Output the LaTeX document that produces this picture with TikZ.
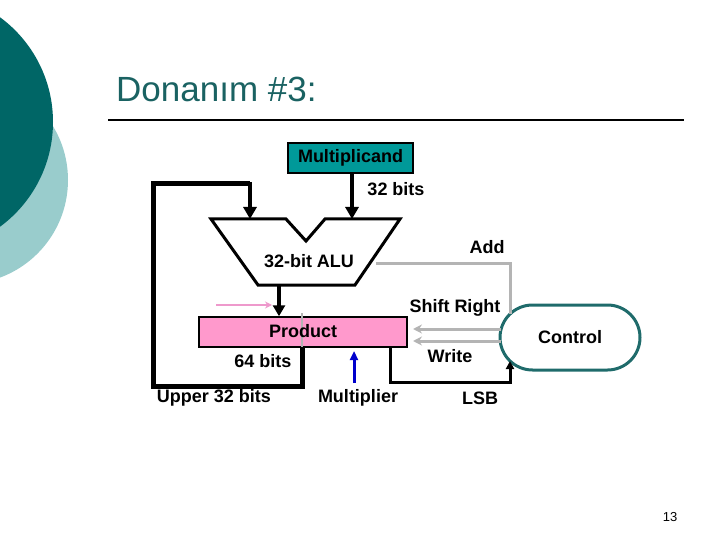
\documentclass[tikz,border=0pt]{standalone}
\usepackage{fontspec}
\setmainfont{Liberation Sans}
\usetikzlibrary{arrows.meta}
\definecolor{darkteal}{HTML}{006666}
\definecolor{lightteal}{HTML}{99CCCC}
\definecolor{titleteal}{HTML}{1A6262}
\definecolor{mcandfill}{HTML}{009999}
\definecolor{prodfill}{HTML}{FF99CC}
\definecolor{pinkarrow}{HTML}{EE99CC}
\definecolor{ctlgray}{HTML}{B4B4B4}
\definecolor{ovalline}{HTML}{1F6B6B}
\definecolor{multblue}{HTML}{0000CC}
\tikzset{
  lbl/.style={font=\fontsize{18}{20}\selectfont\bfseries, inner sep=0pt},
  bigarrow/.style={line width=4pt, -{Triangle[width=13pt,length=12pt]}},
  busline/.style={line width=5pt},
  graysig/.style={draw=ctlgray, line width=3pt},
  grayarrow/.style={graysig, -{Stealth[width=9pt,length=9pt]}},
  boxnode/.style={draw=black, line width=1.5pt, inner sep=0pt, font=\fontsize{18}{20}\selectfont\bfseries}
}
\begin{document}
\begin{tikzpicture}[x=1pt,y=-1pt]
\useasboundingbox (0,0) rectangle (720,540);
\begin{scope}
\clip (0,0) rectangle (720,540);
\fill[lightteal] (-36,180) circle[radius=104];
\fill[darkteal] (-77,122) circle[radius=130];
\end{scope}
% title
\node[anchor=base west, text=titleteal, font=\fontsize{35}{40}\selectfont, inner sep=0pt] (title) at (116,102) {Donanım \#3:};
\draw[line width=2pt] (108,120) coordinate (tl) -- (684,120) coordinate (tr);
% Multiplicand
\node[boxnode, fill=mcandfill, minimum width=125pt, minimum height=30pt] (mcand) at (350.5,158) {Multiplicand};
% ALU
\coordinate (aluTL) at (211,219);
\coordinate (aluN1) at (286,219);
\coordinate (aluNB) at (306,241);
\coordinate (aluN2) at (325,219);
\coordinate (aluTR) at (400,219);
\coordinate (aluBR) at (355,285);
\coordinate (aluBL) at (258,285);
\draw[line width=3pt, line join=miter] (aluTL) -- (aluN1) -- (aluNB) -- (aluN2) -- (aluTR) -- (aluBR) -- (aluBL) -- cycle;
\node[lbl] (alutext) at (309,261) {32-bit ALU};
\coordinate (aluInB) at (352,219);
\coordinate (aluInA) at (250,219);
\coordinate (aluOut) at (279,285);
\coordinate (aluSide) at (376,263);
% Product
\node[boxnode, fill=prodfill, minimum width=208pt, minimum height=30pt] (product) at (303,332) {};
\draw[draw=ctlgray, line width=2pt] (302,313) coordinate (divT) -- (302,347) coordinate (divB);
\node[lbl] (prodtext) at (303,331) {Product};
% Control
\node[draw=ovalline, line width=3pt, minimum width=140pt, minimum height=65pt, rounded corners=32.5pt, inner sep=0pt, font=\fontsize{18}{20}\selectfont\bfseries] (control) at (570,337.5) {Control};
% Multiplicand -> ALU
\draw[bigarrow] (mcand.south -| aluInB) -- (aluInB);
\node[lbl] (bits32) at (396,189) {32 bits};
% feedback loop
\coordinate (fbA) at (302,347);
\coordinate (fbB) at (302,386);
\coordinate (fbC) at (153,386);
\coordinate (fbD) at (153,184);
\coordinate (fbE) at (250,184);
\draw[busline, line join=miter] (fbA) -- (fbB) -- (fbC) -- (fbD) -- (fbE);
\draw[bigarrow] (250,182) -- (aluInA);
% ALU -> Product
\draw[line width=3.5pt, -{Triangle[width=12pt,length=11pt]}] (aluOut) -- (aluOut |- product.north);
% pink arrow
\coordinate (pkA) at (216,305);
\coordinate (pkB) at (272,305);
\draw[draw=pinkarrow, line width=2pt, -{Stealth[width=7pt,length=7pt]}] (pkA) -- (pkB);
% Multiplier arrow
\coordinate (mpA) at (354,383);
\coordinate (mpB) at (354,351);
\draw[draw=multblue, line width=3pt, -{Triangle[width=8pt,length=9pt]}] (mpA) -- (mpB);
% LSB
\coordinate (lsbA) at (390,347);
\coordinate (lsbB) at (390,382);
\coordinate (lsbC) at (510,382);
\coordinate (lsbD) at (510,361);
\draw[line width=3pt, line join=miter, -{Triangle[width=8pt,length=8pt]}] (lsbA) -- (lsbB) -- (lsbC) -- (lsbD);
% Add
\coordinate (addC) at (510,263);
\coordinate (addD) at (510,314);
\draw[graysig] (aluSide) -- (addC) -- (addD);
% Shift right / write
\coordinate (srA) at (501,329);
\coordinate (srB) at (413,329);
\coordinate (wrA) at (501,341);
\coordinate (wrB) at (413,341);
\draw[grayarrow] (srA) -- (srB);
\draw[grayarrow] (wrA) -- (wrB);
% labels
\node[lbl] (addlbl) at (487,247) {Add};
\node[lbl] (srlbl) at (455,308) {Shift Right};
\node[lbl] (wrlbl) at (450,356) {Write};
\node[lbl] (bits64) at (263,361) {64 bits};
\node[lbl] (upper) at (214,398) {Upper 32 bits};
\node[lbl] (mult) at (358,398) {Multiplier};
\node[lbl] (lsb) at (480,398) {LSB};
\node[font=\fontsize{13}{15}\selectfont, inner sep=0pt] (pagenum) at (670,517) {13};
\end{tikzpicture}
\end{document}
